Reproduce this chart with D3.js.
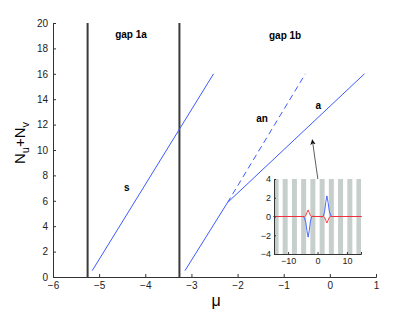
<!DOCTYPE html>
<html>
<head>
<meta charset="utf-8">
<script src="https://cdn.jsdelivr.net/npm/d3@7"></script>
<style>
  body { margin: 0; background: #fff; }
  svg { font-family: "Liberation Sans", Arial, sans-serif; }
</style>
</head>
<body>
<div id="chart"></div>
<script>
// main panel data (mu, Nu+Nv)
const branchS = [[-5.15, 0.5], [-2.52, 16]];
const branchA = [[-3.14, 0.5], [-2.22, 5.85], [0.75, 16]];
const branchAn = [[-2.22, 5.85], [-0.53, 16]];
const gapEdges = [-5.25, -3.26];
const xTicks = [-6, -5, -4, -3, -2, -1, 0, 1];
const yTicks = [0, 2, 4, 6, 8, 10, 12, 14, 16, 18, 20];
const labels = [
  { text: "gap 1a", x: -4.31, y: 18.85 },
  { text: "gap 1b", x: -0.97, y: 18.75 },
  { text: "s", x: -4.4, y: 6.75 },
  { text: "an", x: -1.47, y: 12.2 },
  { text: "a", x: -0.25, y: 13.25 }
];
const arrow = [[-0.25, 7.45], [-0.38, 10.8]];

// inset data (x, u) and (x, v)
const insetU = [[-15, 0], [-5, 0], [-4.5, -0.1], [-4, -0.6], [-3.6, -1.5], [-3.2, -2.2], [-2.8, -1.5],
  [-2.4, -0.5], [-2, -0.05], [-1.5, 0.05], [-1, 0], [1, 0], [1.5, -0.05], [2, 0.05], [2.4, 0.5],
  [2.8, 1.5], [3.2, 2.2], [3.6, 1.5], [4, 0.6], [4.5, 0.1], [5, 0], [15, 0]];
const insetV = [[-15, 0], [-4.4, 0], [-4, 0.1], [-3.6, 0.4], [-3.2, 0.7], [-2.8, 0.4], [-2.4, 0.1],
  [-2, 0], [2, 0], [2.4, -0.1], [2.8, -0.4], [3.2, -0.7], [3.6, -0.4], [4, -0.1], [4.4, 0], [15, 0]];
const stripeCenters = [-14.1, -11.0, -7.85, -4.71, -1.57, 1.57, 4.71, 7.85, 11.0, 14.1];
const insetXTicks = [-10, 0, 10];
const insetYTicks = [-4, -2, 0, 2, 4];

const width = 415, height = 312;
const svg = d3.select("#chart").append("svg")
  .attr("width", width).attr("height", height);

const x = d3.scaleLinear().domain([-6, 1]).range([53, 376]);
const y = d3.scaleLinear().domain([0, 20]).range([277, 23]);

// axes
svg.append("g")
  .attr("transform", `translate(0,${y(0)})`)
  .call(d3.axisBottom(x).tickValues(xTicks).tickSize(-3).tickPadding(5)
    .tickFormat(d => d < 0 ? "\u2212" + Math.abs(d) : d))
  .call(g => g.select(".domain").attr("stroke", "#333"))
  .call(g => g.selectAll(".tick line").attr("stroke", "#333"))
  .call(g => g.selectAll("text").attr("font-size", 10).attr("fill", "#222")
    .attr("font-family", "Liberation Sans, Arial, sans-serif"));

svg.append("g")
  .attr("transform", `translate(${x(-6)},0)`)
  .call(d3.axisLeft(y).tickValues(yTicks).tickSize(-3).tickPadding(5))
  .call(g => g.select(".domain").attr("stroke", "#333"))
  .call(g => g.selectAll(".tick line").attr("stroke", "#333"))
  .call(g => g.selectAll("text").attr("font-size", 10).attr("fill", "#222")
    .attr("font-family", "Liberation Sans, Arial, sans-serif"));

// gap edges
svg.selectAll(".edge").data(gapEdges).enter().append("line")
  .attr("x1", d => x(d)).attr("x2", d => x(d))
  .attr("y1", y(0)).attr("y2", y(20))
  .attr("stroke", "#3a3a3a").attr("stroke-width", 2);

const line = d3.line().x(d => x(d[0])).y(d => y(d[1]));
const blue = "#3a5cff";

svg.append("path").datum(branchS).attr("d", line)
  .attr("fill", "none").attr("stroke", blue).attr("stroke-width", 1);
svg.append("path").datum(branchA).attr("d", line)
  .attr("fill", "none").attr("stroke", blue).attr("stroke-width", 1);
svg.append("path").datum(branchAn).attr("d", line)
  .attr("fill", "none").attr("stroke", blue).attr("stroke-width", 1)
  .attr("stroke-dasharray", "6,4");

svg.selectAll(".lbl").data(labels).enter().append("text")
  .attr("x", d => x(d.x)).attr("y", d => y(d.y))
  .attr("text-anchor", "middle")
  .attr("font-size", 10).attr("font-weight", "bold")
  .text(d => d.text);

// arrow
svg.append("defs").append("marker")
  .attr("id", "head").attr("viewBox", "0 0 10 10")
  .attr("refX", 9).attr("refY", 5)
  .attr("markerWidth", 7).attr("markerHeight", 9)
  .attr("orient", "auto")
  .append("path").attr("d", "M0,0 L10,5 L0,10 L3,5 Z").attr("fill", "#111");
svg.append("line")
  .attr("x1", x(arrow[0][0])).attr("y1", y(arrow[0][1]))
  .attr("x2", x(arrow[1][0])).attr("y2", y(arrow[1][1]))
  .attr("stroke", "#333").attr("stroke-width", 0.8)
  .attr("marker-end", "url(#head)");

// axis titles
svg.append("text")
  .attr("x", 216).attr("y", 306)
  .attr("text-anchor", "middle").attr("font-size", 16)
  .text("\u03bc");

const yl = svg.append("text")
  .attr("transform", `translate(25,143) rotate(-90)`)
  .attr("text-anchor", "middle").attr("font-size", 15);
yl.append("tspan").text("N");
yl.append("tspan").attr("font-size", 11).attr("dy", 4).text("u");
yl.append("tspan").attr("dy", -4).text("+N");
yl.append("tspan").attr("font-size", 11).attr("dy", 4).text("v");

// inset
const ix = d3.scaleLinear().domain([-14.8, 14.8]).range([274, 361]);
const iy = d3.scaleLinear().domain([-4, 4]).range([254, 179]);
const inset = svg.append("g");

inset.append("rect")
  .attr("x", ix(-14.8)).attr("y", iy(4))
  .attr("width", ix(14.8) - ix(-14.8)).attr("height", iy(-4) - iy(4))
  .attr("fill", "#fff");

inset.selectAll(".stripe").data(stripeCenters).enter().append("rect")
  .attr("x", d => ix(Math.max(-14.8, d - 0.85)))
  .attr("width", d => ix(Math.min(14.8, d + 0.85)) - ix(Math.max(-14.8, d - 0.85)))
  .attr("y", iy(4)).attr("height", iy(-4) - iy(4))
  .attr("fill", "#c6cfcb");

const iline = d3.line().x(d => ix(d[0])).y(d => iy(d[1]));
inset.append("path").datum(insetU).attr("d", iline)
  .attr("fill", "none").attr("stroke", blue).attr("stroke-width", 0.9);
inset.append("path").datum(insetV).attr("d", iline)
  .attr("fill", "none").attr("stroke", "#ff2a2a").attr("stroke-width", 0.9);

inset.append("g")
  .attr("transform", `translate(0,${iy(-4)})`)
  .call(d3.axisBottom(ix).tickValues(insetXTicks).tickSize(-2).tickPadding(4)
    .tickFormat(d => d < 0 ? "\u2212" + Math.abs(d) : d))
  .call(g => g.select(".domain").attr("stroke", "#333"))
  .call(g => g.selectAll(".tick line").attr("stroke", "#333"))
  .call(g => g.selectAll("text").attr("font-size", 9).attr("fill", "#222")
    .attr("font-family", "Liberation Sans, Arial, sans-serif"));

inset.append("g")
  .attr("transform", `translate(${ix(-14.8)},0)`)
  .call(d3.axisLeft(iy).tickValues(insetYTicks).tickSize(-2).tickPadding(3)
    .tickFormat(d => d < 0 ? "\u2212" + Math.abs(d) : d))
  .call(g => g.select(".domain").attr("stroke", "#333"))
  .call(g => g.selectAll(".tick line").attr("stroke", "#333"))
  .call(g => g.selectAll("text").attr("font-size", 9).attr("fill", "#222")
    .attr("font-family", "Liberation Sans, Arial, sans-serif"));
</script>
</body>
</html>
